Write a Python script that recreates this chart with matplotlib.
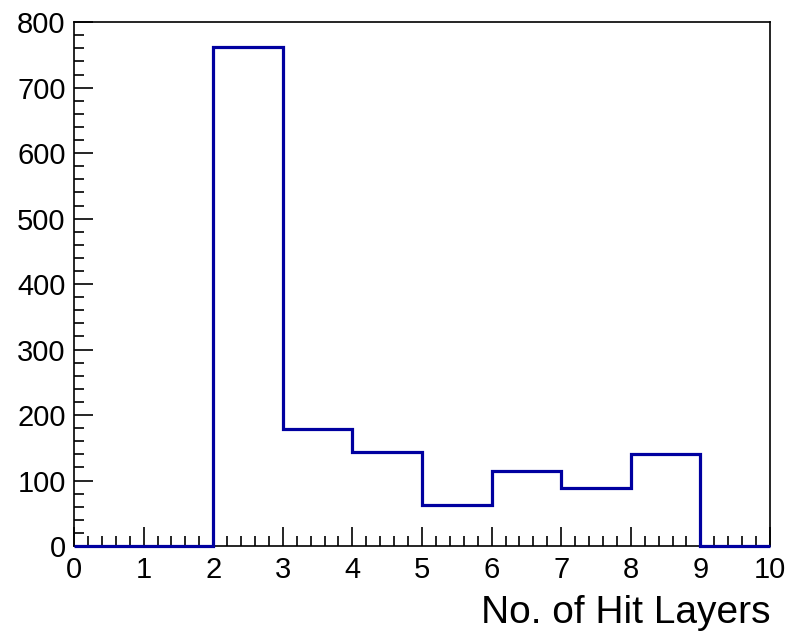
import matplotlib.pyplot as plt
import numpy as np
from matplotlib.ticker import MultipleLocator

plt.rcParams['font.family'] = ['Liberation Sans', 'DejaVu Sans']

# histogram of hit layers, bins of width 1 from 0 to 10
edges = np.arange(0, 11)
counts = [0, 0, 762, 179, 143, 63, 115, 89, 140, 0]

fig = plt.figure(figsize=(7.9, 6.33), dpi=100)
ax = fig.add_axes([0.0937, 0.1374, 0.881, 0.8276])

ax.stairs(counts, edges, color='#0000a0', lw=2.3, baseline=0, clip_on=False, zorder=3)

ax.set_xlim(0, 10)
ax.set_ylim(0, 800)
ax.xaxis.set_major_locator(MultipleLocator(1))
ax.xaxis.set_minor_locator(MultipleLocator(0.2))
ax.yaxis.set_major_locator(MultipleLocator(100))
ax.yaxis.set_minor_locator(MultipleLocator(20))

ax.tick_params(which='both', direction='in', top=False, right=False, width=1.2)
ax.tick_params(which='major', length=14, labelsize=21)
ax.tick_params(which='minor', length=7)
ax.tick_params(axis='x', pad=7)
ax.tick_params(axis='y', pad=6)
for s in ax.spines.values():
    s.set_linewidth(1.2)

ax.set_xlabel('No. of Hit Layers', fontsize=28, loc='right', labelpad=8)

fig.savefig('out.png', dpi=100)
